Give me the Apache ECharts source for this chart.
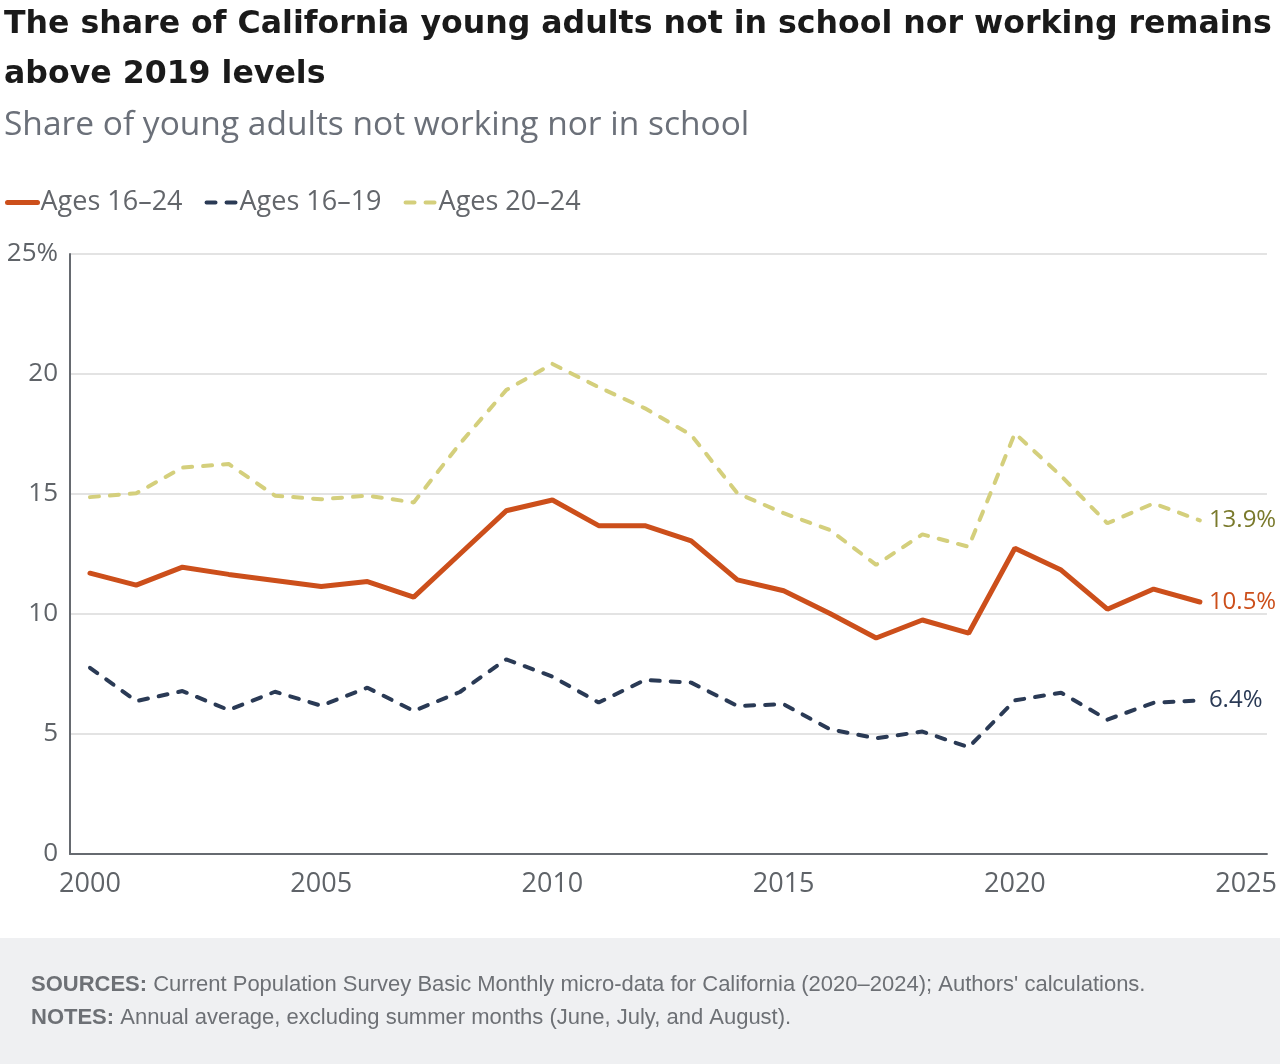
<!DOCTYPE html>
<html>
<head>
<meta charset="utf-8">
<script src="https://cdn.jsdelivr.net/npm/echarts@6/dist/echarts.min.js"></script>
<style>
  html, body { margin: 0; padding: 0; background: #fff; }
  #chart { width: 1280px; height: 1064px; }
</style>
</head>
<body>
<div id="chart"></div>
<script>
// Data
const years = [2000, 2001, 2002, 2003, 2004, 2005, 2006, 2007, 2008, 2009, 2010, 2011,
  2012, 2013, 2014, 2015, 2016, 2017, 2018, 2019, 2020, 2021, 2022, 2023, 2024];
const ages16to24 = [11.7, 11.2, 11.95, 11.65, 11.4, 11.15, 11.35, 10.7, 12.5, 14.3, 14.75, 13.68,
  13.68, 13.05, 11.42, 10.97, 10.02, 9.0, 9.75, 9.2, 12.74, 11.83, 10.2, 11.04, 10.5];
const ages16to19 = [7.76, 6.37, 6.79, 6.0, 6.76, 6.18, 6.93, 5.96, 6.75, 8.11, 7.39, 6.31,
  7.25, 7.14, 6.17, 6.24, 5.2, 4.82, 5.1, 4.45, 6.4, 6.72, 5.6, 6.3, 6.4];
const ages20to24 = [14.87, 15.03, 16.1, 16.25, 14.93, 14.78, 14.93, 14.65, 17.1, 19.33, 20.42, 19.45,
  18.57, 17.46, 15.03, 14.2, 13.5, 12.05, 13.32, 12.8, 17.53, 15.75, 13.78, 14.61, 13.9];
const xTicks = [2000, 2005, 2010, 2015, 2020, 2025];
const seriesNames = ['Ages 16\u201324', 'Ages 16\u201319', 'Ages 20\u201324'];

const FONT = '"Open Sans", "Noto Sans", sans-serif';
const GREY = '#5f6368';

const pairs = vals => years.map((y, i) => [y, vals[i]]);

const chart = echarts.init(document.getElementById('chart'));

const lineSeries = (name, vals, color, width, dashed, labelColor) => ({
  name: name,
  type: 'line',
  data: pairs(vals),
  symbol: 'none',
  lineStyle: {
    color: color,
    width: width,
    type: dashed ? [9, 11] : 'solid',
    cap: 'round'
  },
  itemStyle: { color: color },
  endLabel: {
    show: true,
    distance: 9,
    fontFamily: FONT,
    fontSize: 24,
    color: labelColor,
    formatter: p => p.value[1] + '%'
  },
  emphasis: { disabled: true },
  z: dashed ? 2 : 3
});

chart.setOption({
  animation: false,
  backgroundColor: '#fff',
  textStyle: { fontFamily: FONT },
  title: [
    {
      text: 'The share of California young adults not in school nor working remains\nabove 2019 levels',
      left: -1,
      top: -5,
      textStyle: {
        fontFamily: '"DejaVu Sans", sans-serif',
        fontWeight: 'bold',
        fontSize: 31.6,
        lineHeight: 50,
        color: '#1a1a1a'
      }
    },
    {
      text: 'Share of young adults not working nor in school',
      left: -1,
      top: 103,
      textStyle: {
        fontFamily: FONT,
        fontWeight: 'normal',
        fontSize: 33.5,
        color: '#6b7079'
      }
    }
  ],
  legend: {
    left: 0,
    top: 184,
    itemWidth: 30,
    itemHeight: 14,
    itemGap: 22,
    data: seriesNames,
    itemStyle: { opacity: 0 },
    lineStyle: { width: 'inherit' },
    textStyle: { fontFamily: FONT, fontSize: 27, color: '#63666b', padding: [0, 0, 0, -2] }
  },
  grid: {
    left: 70,
    right: 12,
    top: 254,
    bottom: 210,
    containLabel: false
  },
  xAxis: {
    type: 'value',
    min: 1999.568,
    max: 2025.45,
    axisLine: { show: true, lineStyle: { color: '#666a70', width: 2 } },
    axisTick: { show: false },
    splitLine: { show: false },
    axisLabel: {
      customValues: xTicks,
      formatter: v => String(v),
      fontFamily: FONT,
      fontSize: 27,
      color: GREY,
      margin: 17
    }
  },
  yAxis: {
    type: 'value',
    min: 0,
    max: 25,
    interval: 5,
    axisLine: { show: true, lineStyle: { color: '#666a70', width: 2 } },
    axisTick: { show: false },
    splitLine: { show: true, lineStyle: { color: '#e3e3e3', width: 2 } },
    axisLabel: {
      formatter: v => (v === 25 ? '25%' : String(v)),
      fontFamily: FONT,
      fontSize: 26,
      color: GREY,
      margin: 12
    }
  },
  series: [
    lineSeries(seriesNames[0], ages16to24, '#cc4f1b', 5, false, '#cc4f1b'),
    lineSeries(seriesNames[1], ages16to19, '#2a3a55', 4, true, '#2a3a55'),
    lineSeries(seriesNames[2], ages20to24, '#d4cf7c', 4, true, '#7a7a2c')
  ],
  graphic: [
    {
      type: 'rect',
      left: 0,
      top: 938,
      shape: { width: 1280, height: 126 },
      style: { fill: '#eff0f2' },
      silent: true
    },
    {
      type: 'text',
      left: 31,
      top: 968,
      style: {
        text: '{b|SOURCES:} Current Population Survey Basic Monthly micro-data for California (2020\u20132024); Authors\' calculations.\n{b|NOTES:} Annual average, excluding summer months (June, July, and August).',
        fontFamily: '"Liberation Sans", Arial, sans-serif',
        fontSize: 22,
        lineHeight: 33,
        fill: '#6d7075',
        rich: {
          b: {
            fontFamily: '"Liberation Sans", Arial, sans-serif',
            fontWeight: 'bold',
            fontSize: 22,
            lineHeight: 33,
            fill: '#6d7075'
          }
        }
      }
    }
  ]
});
</script>
</body>
</html>
